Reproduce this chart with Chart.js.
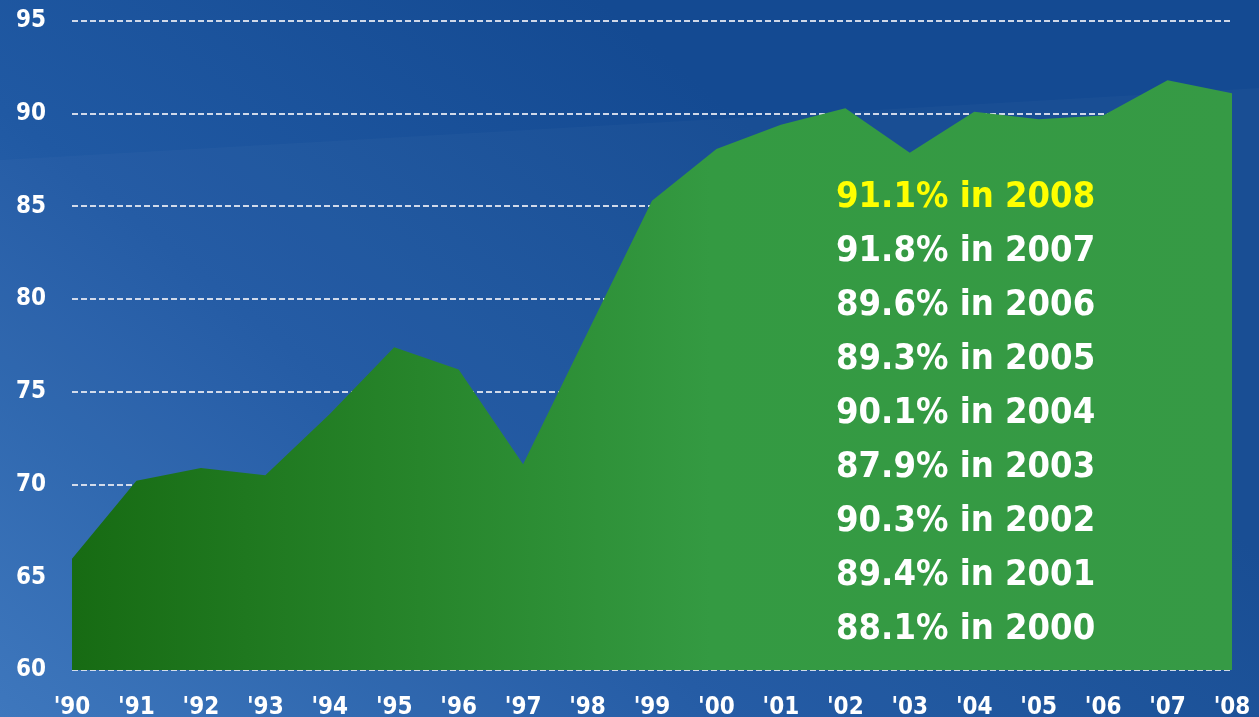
<!DOCTYPE html>
<html>
<head>
<meta charset="utf-8">
<script src="https://cdn.jsdelivr.net/npm/chart.js@4"></script>
<style>
  html, body { margin: 0; padding: 0; background: #1f58a2; }
  .wrap { width: 1259px; height: 717px; position: relative; }
</style>
</head>
<body>
<div class="wrap"><canvas id="chart" width="1259" height="717"></canvas></div>
<script>
// ── Data ────────────────────────────────────────────────────────────────────
const years = ["'90", "'91", "'92", "'93", "'94", "'95", "'96", "'97", "'98", "'99",
               "'00", "'01", "'02", "'03", "'04", "'05", "'06", "'07", "'08"];
const rates = [66.0, 70.2, 70.9, 70.5, 73.8, 77.4, 76.2, 71.1, 78.2, 85.3,
               88.1, 89.4, 90.3, 87.9, 90.1, 89.7, 89.9, 91.8, 91.1];
const calloutTexts = ['91.1% in 2008', '91.8% in 2007', '89.6% in 2006', '89.3% in 2005',
                      '90.1% in 2004', '87.9% in 2003', '90.3% in 2002', '89.4% in 2001',
                      '88.1% in 2000'];
const yMin = 60, yMax = 95, yStep = 5;

const FONT = '"DejaVu Sans Condensed", Tahoma, "DejaVu Sans", sans-serif';

// ── Background: blue gradient with a faint lighter zone ────────────────────
const backdrop = {
  id: 'backdrop',
  beforeDraw(chart) {
    const { ctx, width, height } = chart;
    ctx.save();
    const g = ctx.createLinearGradient(0, height, 600, 0);
    g.addColorStop(0, '#3a74bc');
    g.addColorStop(0.5, '#2059a3');
    g.addColorStop(1, '#144a92');
    ctx.fillStyle = g;
    ctx.fillRect(0, 0, width, height);
    // slightly lighter region below a soft diagonal edge
    ctx.beginPath();
    ctx.moveTo(0, 160);
    ctx.lineTo(width, 88);
    ctx.lineTo(width, height);
    ctx.lineTo(0, height);
    ctx.closePath();
    ctx.fillStyle = 'rgba(255,255,255,0.025)';
    ctx.fill();
    ctx.restore();
  }
};

// ── Callout list drawn over the area ───────────────────────────────────────
const callouts = {
  id: 'callouts',
  afterDatasetsDraw(chart) {
    const { ctx } = chart;
    ctx.save();
    ctx.font = 'bold 36px ' + FONT;
    ctx.textAlign = 'left';
    ctx.textBaseline = 'middle';
    calloutTexts.forEach((t, i) => {
      ctx.fillStyle = i === 0 ? '#ffff00' : '#ffffff';
      ctx.fillText(t, 836, 198 + i * 54);
    });
    ctx.restore();
  }
};

function areaFill(context) {
  const area = context.chart.chartArea;
  if (!area) return '#2b8a32';
  const g = context.chart.ctx.createLinearGradient(area.left, 0, area.right, 0);
  g.addColorStop(0, '#176b13');
  g.addColorStop(0.3, '#27852b');
  g.addColorStop(0.55, '#349a42');
  g.addColorStop(1, '#369a45');
  return g;
}

new Chart(document.getElementById('chart'), {
  type: 'line',
  data: {
    labels: years,
    datasets: [{
      data: rates,
      fill: 'start',
      backgroundColor: areaFill,
      borderWidth: 0,
      pointRadius: 0,
      tension: 0
    }]
  },
  options: {
    responsive: false,
    animation: false,
    layout: { padding: { left: 16, right: 27, top: 21, bottom: 0 } },
    plugins: { legend: { display: false }, tooltip: { enabled: false } },
    scales: {
      x: {
        offset: false,
        grid: { display: false },
        border: { display: false },
        ticks: { color: '#ffffff', font: { family: FONT, size: 24, weight: 'bold' }, padding: 15, maxRotation: 0, autoSkip: false },
        afterFit(scale) { scale.height = 47; scale.paddingLeft = 0; scale.paddingRight = 0; }
      },
      y: {
        min: yMin, max: yMax,
        grid: { color: 'rgba(228,232,242,0.9)', lineWidth: 2, drawTicks: false },
        border: { display: false, dash: [6, 3] },
        ticks: { stepSize: yStep, color: '#ffffff', crossAlign: 'far', padding: 0, font: { family: FONT, size: 24, weight: 'bold' } },
        afterFit(scale) { scale.width = 56; }
      }
    }
  },
  plugins: [backdrop, callouts]
});
</script>
</body>
</html>
